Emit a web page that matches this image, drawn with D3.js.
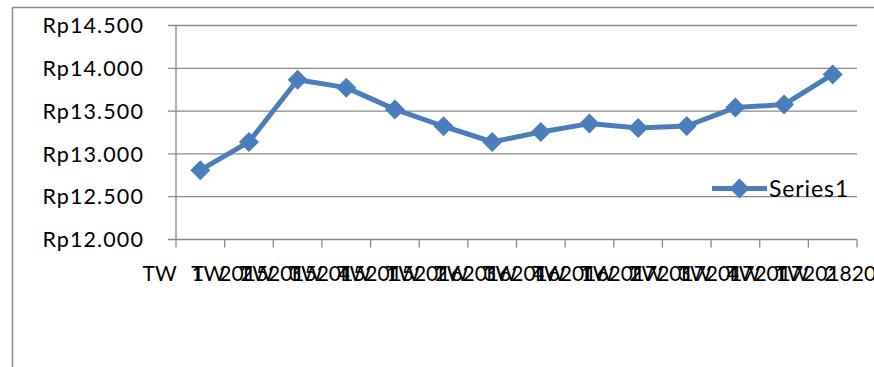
<!DOCTYPE html>
<html>
<head>
<meta charset="utf-8">
<script src="https://cdn.jsdelivr.net/npm/d3@7"></script>
<style>
  html, body { margin: 0; padding: 0; background: #fff; }
  svg { display: block; }
  text { font-family: Lato, "Open Sans", sans-serif; fill: #000; }
</style>
</head>
<body>
<script>
// ---- data ----
const quarters = ["TW 1","TW 2","TW 3","TW 4","TW 1","TW 2","TW 3","TW 4","TW 1","TW 2","TW 3","TW 4","TW 1","TW 2"];
const years    = ["2015","2015","2015","2015","2016","2016","2016","2016","2017","2017","2017","2017","2018","2018"];
const categories = quarters.map((q, i) => q + " " + years[i]);
const series1 = [12810, 13140, 13867, 13774, 13520, 13323, 13140, 13256, 13354, 13303, 13326, 13541, 13576, 13929];
const yTicks = [12000, 12500, 13000, 13500, 14000, 14500];
const seriesName = "Series1";

// ---- layout ----
const W = 874, H = 367;
const plot = { left: 176, right: 857, top: 25.5, bottom: 239.5 };
const lineColor = "#4a7ebb";
const gridColor = "#898989";

const svg = d3.select("body").append("svg").attr("width", W).attr("height", H);

// chart border
svg.append("path")
  .attr("d", `M12.5,${H + 2} L12.5,7.5 L${W + 2},7.5`)
  .attr("fill", "none").attr("stroke", "#8c8c8c").attr("stroke-width", 1.5);

const x = d3.scaleBand().domain(categories).range([plot.left, plot.right]).paddingInner(0).paddingOuter(0);
const y = d3.scaleLinear().domain([12000, 14500]).range([plot.bottom, plot.top]);

const fmt = v => "Rp" + d3.format(",")(v).replace(/,/g, ".");

// gridlines
svg.append("g").selectAll("line").data(yTicks).join("line")
  .attr("x1", plot.left - 8).attr("x2", plot.right)
  .attr("y1", d => y(d)).attr("y2", d => y(d))
  .attr("stroke", gridColor).attr("stroke-width", 1.3);

// y axis line
svg.append("line")
  .attr("x1", plot.left).attr("x2", plot.left)
  .attr("y1", plot.top).attr("y2", plot.bottom)
  .attr("stroke", gridColor).attr("stroke-width", 1.3);

// y labels
svg.append("g").selectAll("text").data(yTicks).join("text")
  .attr("x", 144).attr("y", d => y(d))
  .attr("dy", "0.36em")
  .attr("text-anchor", "end")
  .style("font-size", "21.5px")
  .style("letter-spacing", "1.1px")
  .text(fmt);

// x tick marks at category boundaries
const bounds = categories.map(c => x(c)).concat([plot.right]);
svg.append("g").selectAll("line").data(bounds).join("line")
  .attr("x1", d => d).attr("x2", d => d)
  .attr("y1", plot.bottom).attr("y2", plot.bottom + 8)
  .attr("stroke", gridColor).attr("stroke-width", 1.3);

// x labels (overlapping, as in the original)
svg.append("g").selectAll("text").data(categories).join("text")
  .attr("x", d => x(d) + x.bandwidth() / 2 + 5)
  .attr("y", 281)
  .attr("text-anchor", "middle")
  .style("font-size", "21px")
  .style("word-spacing", "10px")
  .style("white-space", "pre")
  .text(d => d);

// line
const line = d3.line()
  .x((d, i) => x(categories[i]) + x.bandwidth() / 2)
  .y(d => y(d));
svg.append("path").datum(series1)
  .attr("d", line)
  .attr("fill", "none").attr("stroke", lineColor)
  .attr("stroke-width", 5).attr("stroke-linejoin", "round");

// diamond markers
const r = 10;
const diamond = (cx, cy) => `M${cx},${cy - r}L${cx + r},${cy}L${cx},${cy + r}L${cx - r},${cy}Z`;
svg.append("g").selectAll("path").data(series1).join("path")
  .attr("d", (d, i) => diamond(x(categories[i]) + x.bandwidth() / 2, y(d)))
  .attr("fill", lineColor);

// legend
const lg = svg.append("g");
lg.append("line").attr("x1", 712).attr("x2", 767).attr("y1", 188.5).attr("y2", 188.5)
  .attr("stroke", lineColor).attr("stroke-width", 5);
lg.append("path").attr("d", diamond(739.5, 188.5)).attr("fill", lineColor);
lg.append("text").attr("x", 769).attr("y", 197).style("font-size", "23px")
  .style("letter-spacing", "0.9px").text(seriesName);
</script>
</body>
</html>
